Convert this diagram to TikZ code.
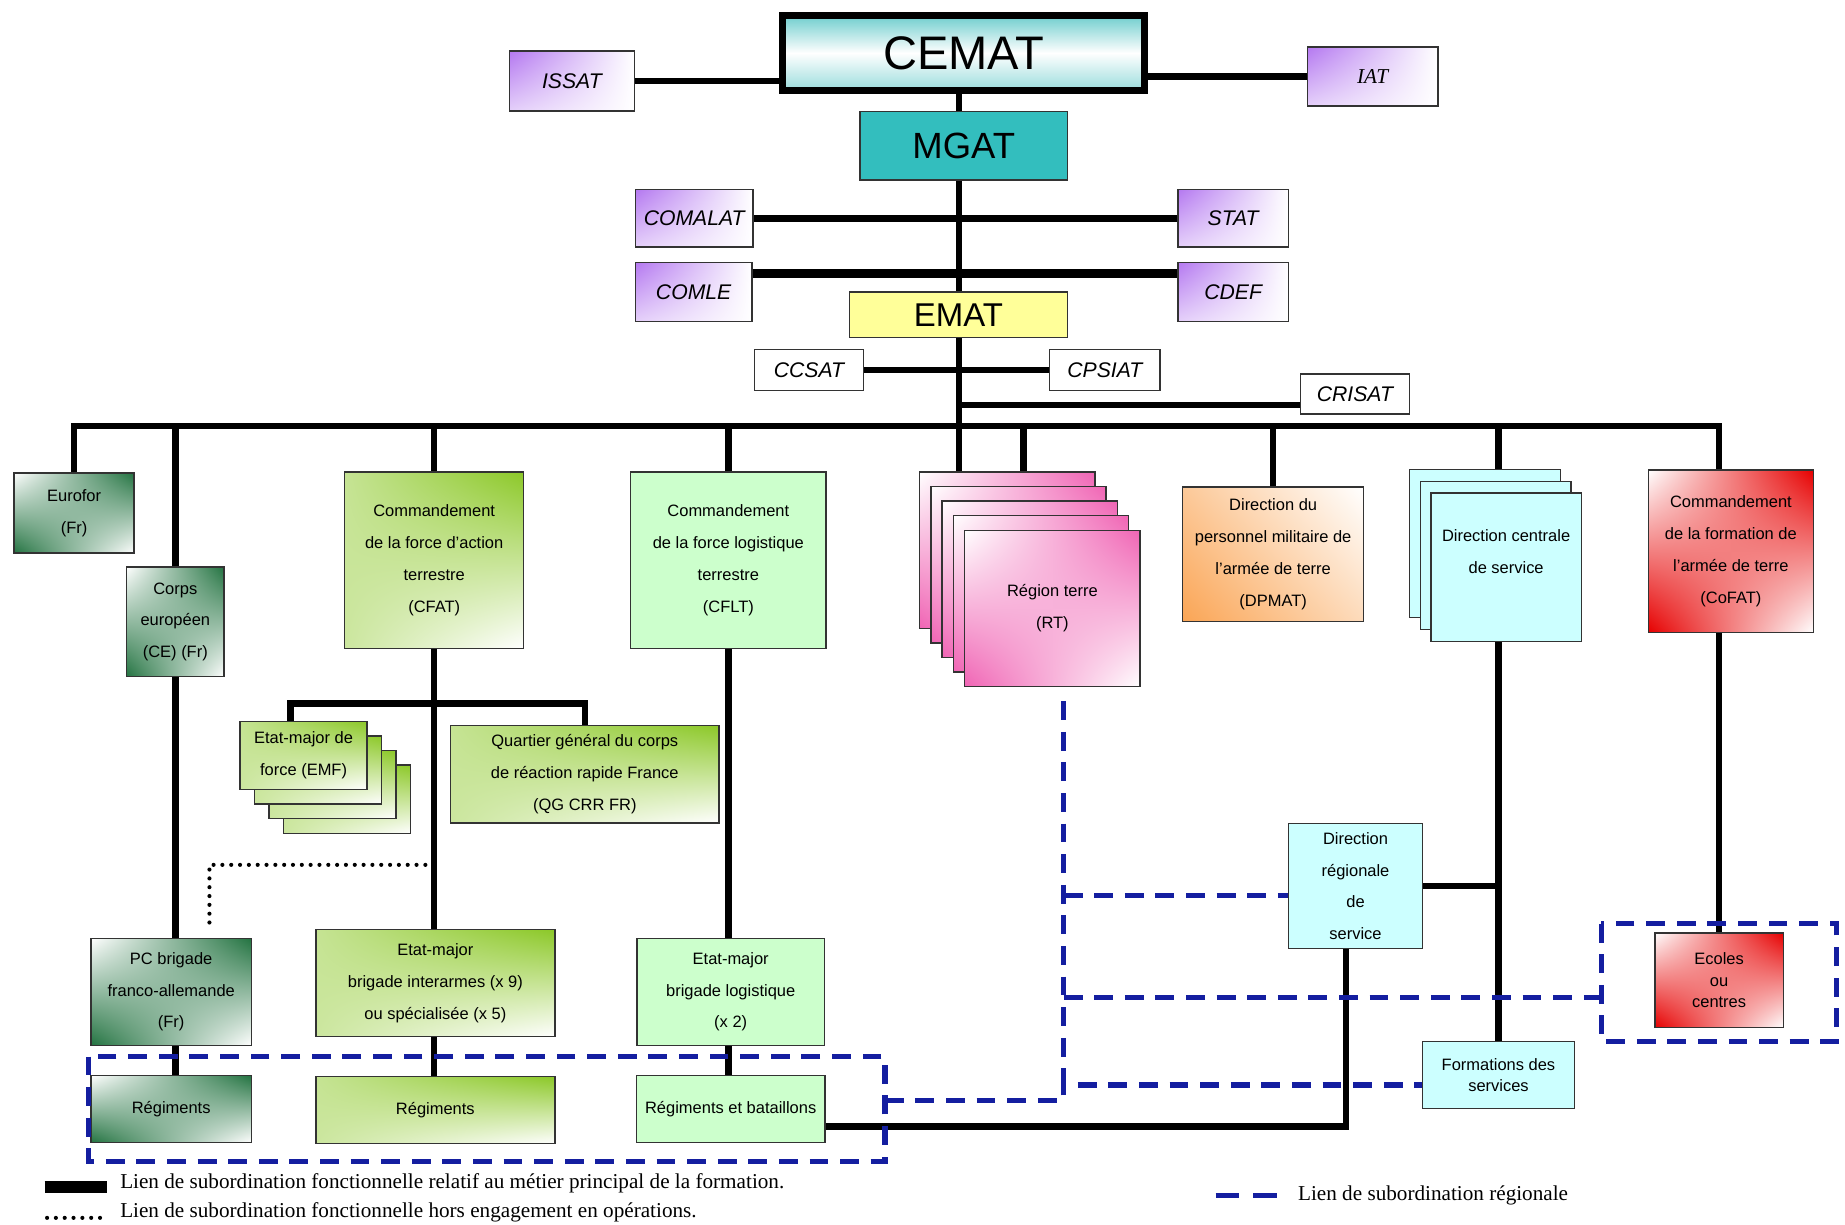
\documentclass[tikz,border=0pt]{standalone}
\usepackage{fontspec}
\setmainfont{Liberation Serif}
\setsansfont{Liberation Sans}
\usepackage{tikz}
\usetikzlibrary{shadings}
\definecolor{cemteal}{RGB}{110,205,205}
\definecolor{mgteal}{RGB}{51,190,190}
\definecolor{emyellow}{RGB}{255,255,153}
\definecolor{lilacc}{RGB}{180,120,240}
\definecolor{dkgreen}{RGB}{35,115,65}
\definecolor{lgreen}{RGB}{140,200,40}
\definecolor{flatgreen}{RGB}{204,255,204}
\definecolor{rtpink}{RGB}{240,100,180}
\definecolor{dporange}{RGB}{250,165,85}
\definecolor{svcyan}{RGB}{204,255,255}
\definecolor{cored}{RGB}{230,0,0}
\definecolor{regblue}{RGB}{20,30,160}

\begin{document}
\begin{tikzpicture}[x=1pt,y=-1pt,
          box/.style={draw=black!80,line width=1.2pt,align=center,inner sep=1pt,
            font=\sffamily\fontsize{14}{27}\selectfont},
          tight/.style={box,font=\sffamily\fontsize{14}{18}\selectfont},
          abbr/.style={draw=black!80,line width=1.2pt,inner sep=1pt,
            font=\sffamily\itshape\fontsize{18}{20}\selectfont},
          link/.style={line width=5.5pt},
          regline/.style={draw=regblue,line width=4.5pt,dash pattern=on 16pt off 10pt},
          dotline/.style={line width=3.5pt,dash pattern=on 0pt off 7.5pt,line cap=round},
          legend/.style={anchor=west,inner sep=0pt,font=\rmfamily\fontsize{18}{20}\selectfont},
          lilac/.style={shade,upper left=lilacc,upper right=white,lower left=lilacc!35!white,lower right=white},
          darkg/.style={shade,upper right=dkgreen,lower left=dkgreen,upper left=white,lower right=white},
          lightg/.style={shade,upper right=lgreen,upper left=lgreen!50!white,lower left=lgreen!45!white,lower right=white},
          pinkish/.style={shade,upper right=rtpink,lower left=rtpink,upper left=white,lower right=white},
          reddish/.style={shade,upper right=cored,lower left=cored,upper left=white,lower right=white},
          orangish/.style={shade,lower left=dporange,upper left=dporange!60!white,lower right=dporange!40!white,upper right=white}]
          \path[use as bounding box,fill=white] (0,0) rectangle (1568,1041);
          \node[draw,line width=6pt,top color=cemteal,bottom color=cemteal!70!white,middle color=white,
            minimum width=308pt,minimum height=64pt,inner sep=0pt,
            font=\sffamily\fontsize{40}{40}\selectfont] (cemat) at (819,45) {CEMAT};
          \node[box,fill=mgteal,minimum width=176pt,minimum height=58pt,
            font=\sffamily\fontsize{31}{31}\selectfont] (mgat) at (819,124) {MGAT};
          \node[box,fill=emyellow,minimum width=185pt,minimum height=39pt,
            font=\sffamily\fontsize{28}{28}\selectfont] (emat) at (814.5,267.5) {EMAT};
          \node[abbr,lilac,minimum width=106pt,minimum height=51pt] (issat) at (486,69) {ISSAT\hspace{24pt}};
          \node[abbr,lilac,minimum width=111pt,minimum height=50pt,
            font=\rmfamily\itshape\fontsize{18}{20}\selectfont] (iat) at (1166.5,65) {IAT};
          \node[abbr,lilac,minimum width=100pt,minimum height=49pt] (comalat) at (590,185.5) {COMALAT};
          \node[abbr,lilac,minimum width=94pt,minimum height=49pt] (stat) at (1048,185.5) {STAT};
          \node[abbr,lilac,minimum width=99pt,minimum height=50pt] (comle) at (589.5,248) {COMLE};
          \node[abbr,lilac,minimum width=94pt,minimum height=50pt] (cdef) at (1048,248) {CDEF};
          \node[abbr,fill=white,minimum width=93pt,minimum height=35pt] (ccsat) at (687.5,314.5) {CCSAT};
          \node[abbr,fill=white,minimum width=94pt,minimum height=35pt] (cpsiat) at (939,314.5) {CPSIAT};
          \node[abbr,fill=white,minimum width=93pt,minimum height=34pt] (crisat) at (1151.5,335) {CRISAT};

          \node[box,darkg,minimum width=102pt,minimum height=68pt] (eurofor) at (63,436) {Eurofor\\(Fr)};
          \node[box,darkg,minimum width=83pt,minimum height=93pt] (corps) at (149,528.5) {Corps\\européen\\(CE) (Fr)};
          \node[box,lightg,minimum width=152pt,minimum height=150pt] (cfat) at (369,476) {Commandement\\de la force d'action\\terrestre\\(CFAT)};
          \node[box,fill=flatgreen,minimum width=166pt,minimum height=150pt] (cflt) at (619,476) {Commandement\\de la force logistique\\terrestre\\(CFLT)};
          \node[box,pinkish,minimum width=149pt,minimum height=133pt] (rt1) at (856,467.5) {};
          \node[box,pinkish,minimum width=149pt,minimum height=133pt] (rt2) at (865.6,479.9) {};
          \node[box,pinkish,minimum width=149pt,minimum height=133pt] (rt3) at (875.2,492.3) {};
          \node[box,pinkish,minimum width=149pt,minimum height=133pt] (rt4) at (884.8,504.7) {};
          \node[box,pinkish,minimum width=149pt,minimum height=133pt] (rt) at (894.4,517.1) {Région terre\\(RT)};
          \node[box,orangish,minimum width=154pt,minimum height=114pt] (dpmat) at (1082,471) {Direction du\\personnel militaire de\\l'armée de terre\\(DPMAT)};
          \node[box,fill=svcyan,minimum width=128pt,minimum height=126pt] (dcs1) at (1262,462) {};
          \node[box,fill=svcyan,minimum width=128pt,minimum height=126pt] (dcs2) at (1271,472) {};
          \node[box,fill=svcyan,minimum width=128pt,minimum height=126pt] (dcs) at (1280,482) {Direction centrale\\de service\\~};
          \node[box,reddish,minimum width=140pt,minimum height=138pt] (cofat) at (1471,468.5) {Commandement\\de la formation de\\l'armée de terre\\(CoFAT)};

          \node[box,lightg,minimum width=108pt,minimum height=58pt] (emf1) at (294.9,679.2) {};
          \node[box,lightg,minimum width=108pt,minimum height=58pt] (emf2) at (282.6,666.8) {};
          \node[box,lightg,minimum width=108pt,minimum height=58pt] (emf3) at (270.3,654.4) {};
          \node[box,lightg,minimum width=108pt,minimum height=58pt] (emf) at (258,642) {Etat-major de\\force (EMF)};
          \node[box,lightg,minimum width=228pt,minimum height=83pt] (qg) at (497,658) {Quartier général du corps\\de réaction rapide France\\(QG CRR FR)};
          \node[box,darkg,minimum width=136pt,minimum height=91pt] (pc) at (145.5,843) {PC brigade\\franco-allemande\\(Fr)};
          \node[box,lightg,minimum width=203pt,minimum height=91pt] (emia) at (370,835.5) {Etat-major\\brigade interarmes (x 9)\\ou spécialisée (x 5)};
          \node[box,fill=flatgreen,minimum width=159pt,minimum height=91pt] (emlog) at (621,843) {Etat-major\\brigade logistique\\(x 2)};
          \node[box,darkg,minimum width=136pt,minimum height=57pt] (reg1) at (145.5,942.5) {Régiments};
          \node[box,lightg,minimum width=203pt,minimum height=57pt] (reg2) at (370,943.5) {Régiments};
          \node[box,fill=flatgreen,minimum width=160pt,minimum height=57pt] (rb) at (621,942.5) {Régiments et bataillons};
          \node[box,fill=svcyan,minimum width=114pt,minimum height=106pt] (drs) at (1152,753) {Direction\\régionale\\de\\service};
          \node[tight,fill=svcyan,minimum width=129pt,minimum height=57pt] (fserv) at (1273.5,913.5) {Formations des\\services};
          \node[tight,reddish,minimum width=109pt,minimum height=80pt] (ecoles) at (1461,833) {Ecoles\\ou\\centres};

          \coordinate (trunk) at (815,362);
          \coordinate (crisatL) at ([yshift=-9pt]crisat.west);
          \coordinate (sub) at (369,598);
          \coordinate (dotA) at (369,735);
          \draw[link] (cemat.south -| trunk) -- (mgat.north -| trunk);
          \draw[link] (mgat.south -| trunk) -- (emat.north -| trunk);
          \draw[link] (issat.east) -- (issat.east -| cemat.west);
          \draw[link] (iat.west) -- (iat.west -| cemat.east);
          \draw[link] (comalat.east) -- (stat.west);
          \draw[link,line width=7pt] ([yshift=-10pt]comle.north east) -- ([yshift=-10pt]cdef.north west);
          \draw[link] (ccsat.east) -- (cpsiat.west);
          \draw[link] (crisatL) -- (crisatL -| trunk);
          \draw[link] (emat.south -| trunk) -- (rt1.north -| trunk);
          \draw[link] (eurofor.north) |- (trunk) -| (ecoles.north |- cofat.north);
          \draw[link] (corps.north) -- (corps.north |- trunk);
          \draw[link] (cfat.north) -- (cfat.north |- trunk);
          \draw[link] (cflt.north) -- (cflt.north |- trunk);
          \draw[link] ([xshift=14pt]rt1.north) -- ([xshift=14pt]rt1.north |- trunk);
          \draw[link] (dpmat.north) -- (dpmat.north |- trunk);
          \draw[link] (dcs1.north -| fserv) -- (trunk -| fserv);
          \draw[link] (corps.south) -- (corps.south |- pc.north);
          \draw[link] (pc.south -| corps) -- (reg1.north -| corps);
          \draw[link] (cfat.south) -- (cfat.south |- emia.north);
          \draw[link] (emia.south -| cfat) -- (reg2.north -| cfat);
          \draw[link] ([xshift=-11pt]emf.north) |- (sub) -| (qg.north);
          \draw[link] (cflt.south) -- (cflt.south |- emlog.north);
          \draw[link] (emlog.south -| cflt) -- (rb.north -| cflt);
          \draw[link] (dcs.south -| fserv) -- (fserv.north);
          \draw[link] (drs.east) -- (drs.east -| fserv);
          \draw[link] (ecoles.north |- cofat.south) -- (ecoles.north);
          \draw[link] ([yshift=-15pt]rb.east) -| ([xshift=-8pt]drs.south);
          \draw[dotline,shorten >=9pt] (dotA) -| ([xshift=32.5pt]pc.north);

          \coordinate (rtop) at (904,596);
          \coordinate (rbot) at (904,922);
          \coordinate (y848) at (1361,848);
          \draw[regline] (75,898) rectangle (752,987);
          \draw[regline] (rtop) -- (rbot) -- (rbot -| fserv.west);
          \draw[regline] (752,935) -| (rbot);
          \draw[regline] ([yshift=-8pt]drs.west -| rtop) -- ([yshift=-8pt]drs.west);
          \draw[regline] (1361,785) rectangle (1561,885);
          \draw[regline] (rtop |- y848) -- (y848);

          \draw[line width=10pt] (38,1009) -- (91,1009);
          \node[legend] (leg1) at (102,1006) {Lien de subordination fonctionnelle relatif au métier principal de la formation.};
          \draw[dotline] (40,1035) -- (91,1035);
          \node[legend] (leg2) at (102,1030) {Lien de subordination fonctionnelle hors engagement en opérations.};
          \draw[regline,dash pattern=on 20pt off 12pt] (1033,1016) -- (1085,1016);
          \node[legend] (leg3) at (1103,1016) {Lien de subordination régionale};
\end{tikzpicture}
\end{document}
